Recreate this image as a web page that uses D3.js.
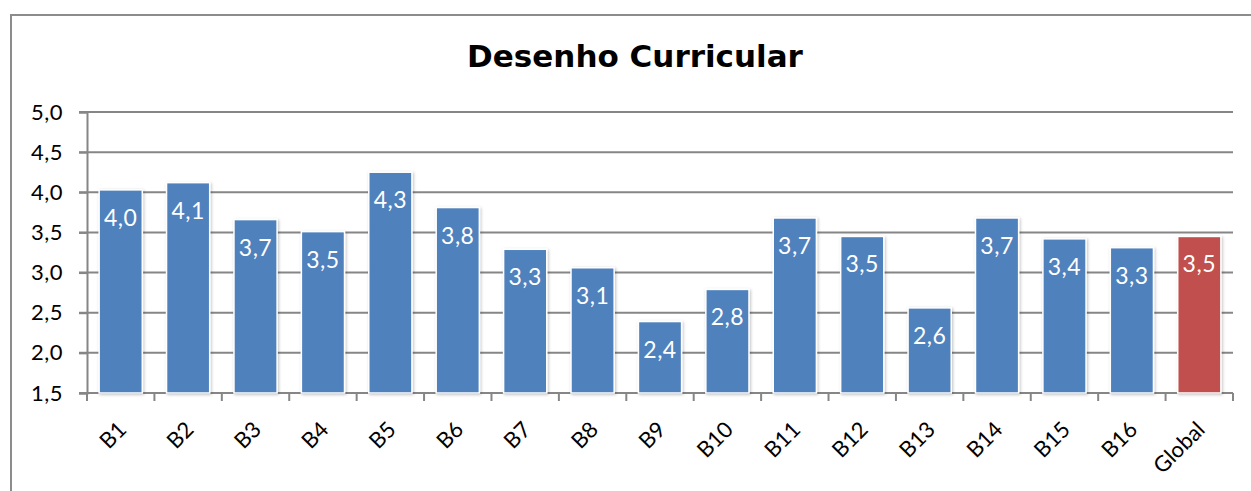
<!DOCTYPE html>
<html>
<head>
<meta charset="utf-8">
<script src="https://cdn.jsdelivr.net/npm/d3@7"></script>
<style>
  body { margin: 0; background: #fff; }
  svg { display: block; }
</style>
</head>
<body>
<div id="chart"></div>
<script>

// data
var categories = ["B1","B2","B3","B4","B5","B6","B7","B8","B9","B10","B11","B12","B13","B14","B15","B16","Global"];
var values = [4.03, 4.12, 3.66, 3.51, 4.25, 3.81, 3.29, 3.06, 2.39, 2.79, 3.68, 3.45, 2.56, 3.68, 3.42, 3.31, 3.45];
var yTicks = [1.5, 2.0, 2.5, 3.0, 3.5, 4.0, 4.5, 5.0];
var title = "Desenho Curricular";

var W = 1251, H = 491;
var margin = {top: 112, left: 87, right: 18, bottom: 98};
var width = W - margin.left - margin.right;
var height = H - margin.top - margin.bottom;

var labelFont = "Lato, 'Open Sans', sans-serif";

var svg = d3.select("#chart").append("svg")
  .attr("width", W)
  .attr("height", H);

// shadow for bars
var defs = svg.append("defs");
var f = defs.append("filter").attr("id", "shadow").attr("x", "-20%").attr("y", "-20%").attr("width", "140%").attr("height", "140%");
f.append("feDropShadow").attr("dx", 1).attr("dy", 1).attr("stdDeviation", 1.5).attr("flood-color", "#000").attr("flood-opacity", 0.25);

// outer frame (runs off right and bottom edge)
svg.append("rect")
  .attr("x", 11).attr("y", 15)
  .attr("width", W + 20).attr("height", H + 20)
  .attr("fill", "none")
  .attr("stroke", "#8c8c8c")
  .attr("stroke-width", 2);

svg.append("text")
  .attr("x", 635).attr("y", 67)
  .attr("text-anchor", "middle")
  .style("font-family", "'DejaVu Sans', sans-serif")
  .style("font-weight", "bold")
  .style("font-size", "31px")
  .style("fill", "#000")
  .text(title);

var g = svg.append("g")
  .attr("transform", "translate(" + margin.left + "," + margin.top + ")");

var xScale = d3.scaleBand().domain(categories).range([0, width]).paddingInner(0.36).paddingOuter(0.18);
var xTickScale = d3.scalePoint().domain(d3.range(categories.length + 1)).range([0, width]);
var yScale = d3.scaleLinear().domain([1.5, 5.0]).range([height, 0]);

// gridlines
g.append("g")
  .selectAll("line")
  .data(yTicks)
  .enter().append("line")
  .attr("x1", -8).attr("x2", width)
  .attr("y1", function(d) { return yScale(d); })
  .attr("y2", function(d) { return yScale(d); })
  .attr("stroke", "#868686")
  .attr("stroke-width", 2);

// y axis
var yAxis = d3.axisLeft(yScale)
  .tickValues(yTicks)
  .tickSize(8)
  .tickFormat(function(d) { return d3.format(".1f")(d).replace(".", ","); });

var yg = g.append("g").attr("class", "y axis").call(yAxis);
yg.select(".domain").attr("stroke", "#868686").attr("stroke-width", 2);
yg.selectAll(".tick line").attr("stroke", "#868686").attr("stroke-width", 2);
yg.selectAll(".tick text")
  .attr("x", -24)
  .style("font-family", labelFont)
  .style("font-size", "22px")
  .style("letter-spacing", "0.5px")
  .style("fill", "#000");

// x axis baseline and ticks between categories
g.append("line")
  .attr("x1", 0).attr("x2", width)
  .attr("y1", height).attr("y2", height)
  .attr("stroke", "#868686").attr("stroke-width", 2);

g.append("g")
  .selectAll("line")
  .data(d3.range(categories.length + 1))
  .enter().append("line")
  .attr("x1", function(d) { return xTickScale(d); })
  .attr("x2", function(d) { return xTickScale(d); })
  .attr("y1", height).attr("y2", height + 8)
  .attr("stroke", "#868686").attr("stroke-width", 2);

// bars
g.append("g")
  .selectAll("rect")
  .data(values)
  .enter().append("rect")
  .attr("x", function(d, i) { return xScale(categories[i]); })
  .attr("y", function(d) { return yScale(d); })
  .attr("width", xScale.bandwidth())
  .attr("height", function(d) { return height - yScale(d); })
  .attr("fill", function(d, i) { return categories[i] == "Global" ? "#c0504d" : "#4f81bd"; })
  .attr("stroke", "#fff")
  .attr("stroke-width", 1.5)
  .attr("filter", "url(#shadow)");

// value labels
g.append("g")
  .selectAll("text")
  .data(values)
  .enter().append("text")
  .attr("x", function(d, i) { return xScale(categories[i]) + xScale.bandwidth() / 2; })
  .attr("y", function(d) { return yScale(d) + 36; })
  .attr("text-anchor", "middle")
  .style("font-family", labelFont)
  .style("font-size", "23px")
  .style("letter-spacing", "0.5px")
  .style("fill", "#fff")
  .text(function(d) { return d3.format(".1f")(d).replace(".", ","); });

// x labels rotated
g.append("g")
  .selectAll("text")
  .data(categories)
  .enter().append("text")
  .attr("transform", function(d) {
    var cx = xScale(d) + xScale.bandwidth() / 2 + 7;
    return "translate(" + cx + "," + (height + 38) + ") rotate(-45)";
  })
  .attr("text-anchor", "end")
  .style("font-family", labelFont)
  .style("font-size", "22px")
  .style("fill", "#000")
  .text(function(d) { return d; });

</script>
</body>
</html>
